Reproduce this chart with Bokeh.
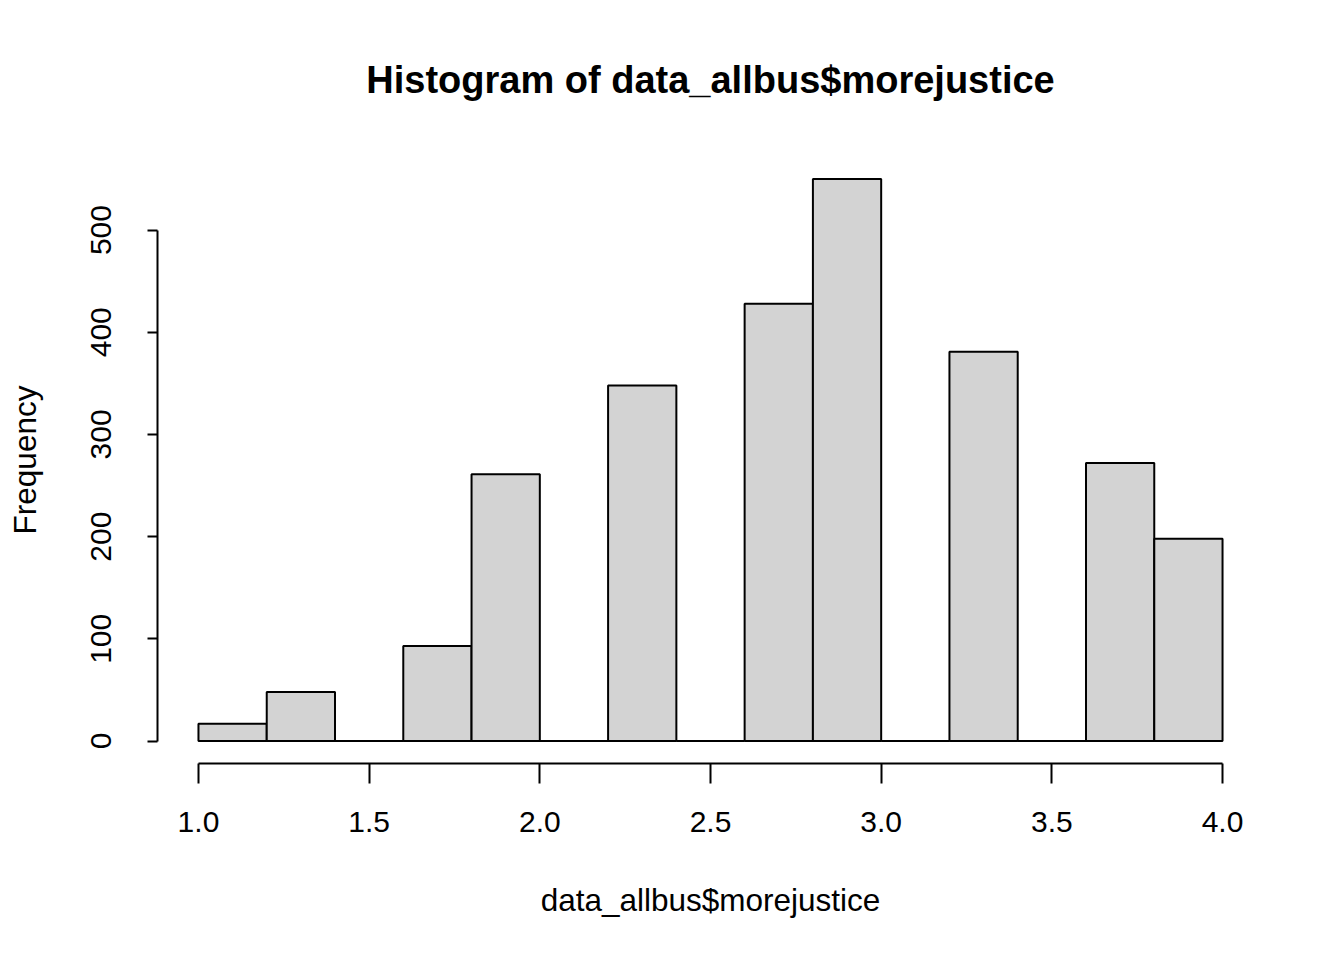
from bokeh.plotting import figure
from bokeh.models import Range1d, FixedTicker
from bokeh.embed import file_html
from bokeh.resources import INLINE

# Data
bin_edges = [1.0, 1.2, 1.4, 1.6, 1.8, 2.0, 2.2, 2.4, 2.6, 2.8, 3.0, 3.2, 3.4, 3.6, 3.8, 4.0]
counts = [17, 48, 0, 93, 261, 0, 348, 0, 428, 550, 0, 381, 0, 272, 198]
x_ticks = [1.0, 1.5, 2.0, 2.5, 3.0, 3.5, 4.0]
y_ticks = [0, 100, 200, 300, 400, 500]
title_text = "Histogram of data_allbus$morejustice"
x_label = "data_allbus$morejustice"
y_label = "Frequency"

FONT = "Liberation Sans"

p = figure(width=1328, height=944, output_backend="svg", toolbar_location=None,
           x_range=Range1d(0.88, 4.12), y_range=Range1d(-22, 572),
           min_border_left=157, min_border_right=65, min_border_top=156, min_border_bottom=181,
           title=title_text)

p.quad(left=bin_edges[:-1], right=bin_edges[1:], bottom=0, top=counts,
       fill_color="#D3D3D3", line_color="black", line_width=2)

p.grid.visible = False
p.outline_line_color = None
p.background_fill_color = "white"
p.border_fill_color = "white"

p.title.text_font = FONT
p.title.text_font_size = "38px"
p.title.text_font_style = "bold"
p.title.align = "center"
p.title.text_color = "black"
p.title.standoff = 112

xa = p.xaxis[0]
xa.ticker = FixedTicker(ticks=x_ticks)
xa.major_label_overrides = {t: f"{t:.1f}" for t in x_ticks}
xa.bounds = (1.0, 4.0)
xa.axis_line_width = 2
xa.major_tick_line_width = 2
xa.major_tick_out = 20
xa.major_tick_in = 0
xa.minor_tick_out = 0
xa.minor_tick_in = 0
xa.major_label_text_font = FONT
xa.major_label_text_font_size = "30px"
xa.major_label_text_color = "black"
xa.major_label_standoff = 28
xa.axis_label = x_label
xa.axis_label_text_font = FONT
xa.axis_label_text_font_size = "31.5px"
xa.axis_label_text_font_style = "normal"
xa.axis_label_text_color = "black"
xa.axis_label_standoff = 47

ya = p.yaxis[0]
ya.ticker = FixedTicker(ticks=y_ticks)
ya.bounds = (0, 500)
ya.axis_line_width = 2
ya.major_tick_line_width = 2
ya.major_tick_out = 10
ya.major_tick_in = 0
ya.minor_tick_out = 0
ya.minor_tick_in = 0
ya.major_label_orientation = "vertical"
ya.major_label_text_font = FONT
ya.major_label_text_font_size = "30px"
ya.major_label_text_color = "black"
ya.major_label_standoff = 36
ya.axis_label = y_label
ya.axis_label_text_font = FONT
ya.axis_label_text_font_size = "31.5px"
ya.axis_label_text_font_style = "normal"
ya.axis_label_text_color = "black"
ya.axis_label_standoff = 46

open("out.html", "w").write(file_html(p, INLINE))
